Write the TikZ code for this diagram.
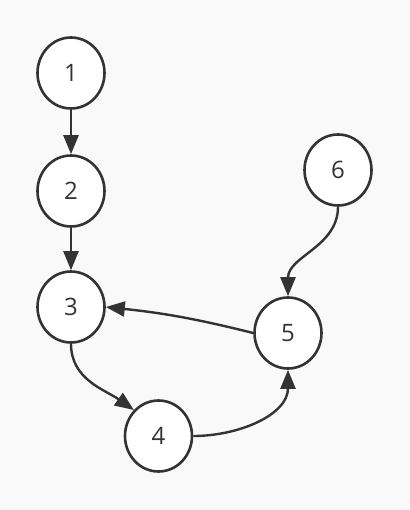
\documentclass[tikz,border=0pt]{standalone}
\usepackage{fontspec}
\setmainfont{Open Sans}
\usetikzlibrary{arrows.meta,shapes.geometric}
\definecolor{bgc}{HTML}{F9F9F9}
\definecolor{ink}{HTML}{333333}
\begin{document}
\begin{tikzpicture}[x=1pt,y=-1pt,
  vert/.style={ellipse,draw=ink,fill=white,line width=2.6pt,minimum width=67pt,minimum height=71pt,inner sep=0pt,font=\fontsize{24}{24}\selectfont,text=ink},
  edge/.style={draw=ink,line width=2.4pt,-{Triangle[length=19pt,width=15pt]}}]
\fill[bgc] (0,0) rectangle (409,510);
\useasboundingbox (0,0) rectangle (409,510);
\node[vert] (n1) at (71,73) {1};
\node[vert] (n2) at (71,191) {2};
\node[vert] (n3) at (71,307) {3};
\node[vert] (n4) at (158.5,436) {4};
\node[vert] (n5) at (288,333) {5};
\node[vert] (n6) at (338,170) {6};
\draw[edge] (n1) -- (n2);
\draw[edge] (n2) -- (n3);
\draw[edge] (n3.south) to[out=-90,in=145] (n4.north west);
\draw[edge] (n4.east) to[out=0,in=-90] (n5.south);
\draw[edge] (n5.west) to[bend right=4] (n3.east);
\draw[edge] (n6.south) to[out=-90,in=90] (n5.north);
\end{tikzpicture}
\end{document}
